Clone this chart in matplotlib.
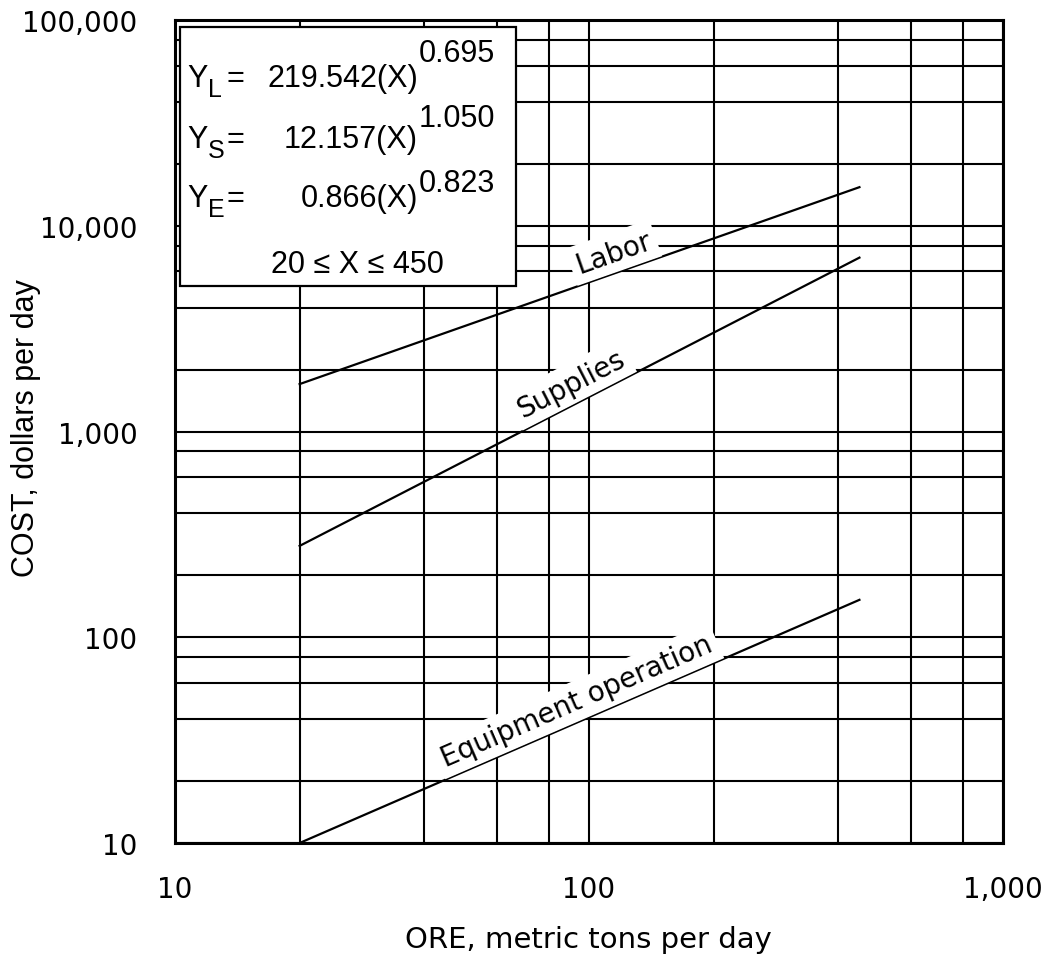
import math
import matplotlib
matplotlib.use("Agg")
import matplotlib.pyplot as plt
from matplotlib.ticker import LogLocator, FixedLocator, NullFormatter
from matplotlib.patches import Rectangle

W, H = 1044, 962

# end points of the three fitted lines
ore_range = [20, 450]              # metric tons per day
labor_cost = [1700, 15400]         # dollars per day
supplies_cost = [278, 7000]
equipment_cost = [10, 152]

x_ticks = [10, 100, 1000]
x_tick_labels = ["10", "100", "1,000"]
y_ticks = [10, 100, 1000, 10000, 100000]
y_tick_labels = ["10", "100", "1,000", "10,000", "100,000"]
grid_subs = [2, 4, 6, 8]

# (subscript, coefficient, exponent)
equations = [("L", "219.542", "0.695"),
             ("S", "12.157", "1.050"),
             ("E", "0.866", "0.823")]
range_text = "20 \u2264 X \u2264 450"

TICK_FONT = "DejaVu Sans"
EQ_FONT = "Liberation Sans"
NARROW = ["Liberation Sans Narrow", "Liberation Sans"]

fig = plt.figure(figsize=(W / 100, H / 100), dpi=100)
ax = fig.add_axes([175 / W, 1 - 844 / H, 828 / W, 823 / H])

ax.set_xscale("log")
ax.set_yscale("log")
ax.set_xlim(10, 1000)
ax.set_ylim(10, 100000)

ax.xaxis.set_major_locator(FixedLocator(x_ticks))
ax.yaxis.set_major_locator(FixedLocator(y_ticks))
ax.xaxis.set_minor_locator(LogLocator(base=10, subs=grid_subs, numticks=20))
ax.yaxis.set_minor_locator(LogLocator(base=10, subs=grid_subs, numticks=20))
ax.xaxis.set_minor_formatter(NullFormatter())
ax.yaxis.set_minor_formatter(NullFormatter())
ax.set_xticklabels(x_tick_labels, fontsize=20, family=TICK_FONT)
ax.set_yticklabels(y_tick_labels, fontsize=20, family=TICK_FONT)
ax.tick_params(which="both", length=0)
ax.tick_params(axis="x", pad=23)
ax.tick_params(axis="y", pad=27)

ax.set_axisbelow(True)
ax.grid(which="both", color="black", lw=1.5)
for sp in ax.spines.values():
    sp.set_linewidth(2.2)

ax.plot(ore_range, labor_cost, color="black", lw=1.6, zorder=2.5)
ax.plot(ore_range, supplies_cost, color="black", lw=1.6, zorder=2.5)
ax.plot(ore_range, equipment_cost, color="black", lw=1.6, zorder=2.5)


def line_label(text, xs, ys, at_px, gap=12):
    # put text along a line, its baseline `gap` pixels above it
    p = ax.transData.transform(list(zip(xs, ys)))
    ang = math.atan2(p[1][1] - p[0][1], p[1][0] - p[0][0])
    t = (at_px - p[0][0]) / (p[1][0] - p[0][0])
    bx = p[0][0] + t * (p[1][0] - p[0][0]) - gap * math.sin(ang)
    by = p[0][1] + t * (p[1][1] - p[0][1]) + gap * math.cos(ang)
    dx, dy = ax.transData.inverted().transform((bx, by))
    ax.text(dx, dy, text, rotation=math.degrees(ang), rotation_mode="anchor",
            ha="center", va="baseline", fontsize=20, family=TICK_FONT,
            bbox=dict(facecolor="white", edgecolor="none", pad=4),
            zorder=3)


line_label("Labor", ore_range, labor_cost, 620)
line_label("Supplies", ore_range, supplies_cost, 580)
line_label("Equipment operation", ore_range, equipment_cost, 585)

# equation box in the upper left corner
ax.add_patch(Rectangle((5 / 828, 1 - 266 / 823), 336 / 828, 259 / 823,
                       transform=ax.transAxes, facecolor="white",
                       edgecolor="black", lw=1.6, zorder=4))


def ftext(x, y, s, family=EQ_FONT, **kw):
    fig.text(x / W, 1 - y / H, s, family=family, zorder=5, **kw)


rows = [(87, 62), (148, 127), (207, 192)]
for (sub, coef, expo), (base, sup) in zip(equations, rows):
    ftext(187, base, "Y", family=NARROW, fontsize=22, va="baseline")
    ftext(208, base + 10, sub, family=NARROW, fontsize=18, va="baseline")
    ftext(227, base, "=", family=NARROW, fontsize=22, va="baseline")
    ftext(418, base, coef + "(X)", fontsize=22, va="baseline", ha="right")
    ftext(419, sup, expo, fontsize=22, va="baseline")
ftext(357, 273, range_text, fontsize=22, va="baseline", ha="center")

fig.text(588 / W, 1 - 940 / H, "ORE, metric tons per day", fontsize=21,
         family=TICK_FONT, ha="center", va="center")
fig.text(26 / W, 1 - 428 / H, "COST, dollars per day", fontsize=22,
         family=EQ_FONT, rotation=90, ha="center", va="center")

fig.savefig("out.png", dpi=100)
